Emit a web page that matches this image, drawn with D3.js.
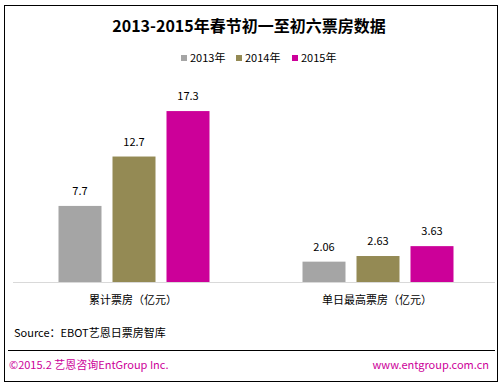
<!DOCTYPE html>
<html>
<head>
<meta charset="utf-8">
<script src="https://cdn.jsdelivr.net/npm/d3@7"></script>
<style>
  body { margin: 0; background: #fff; }
  text { font-family: "Noto Sans CJK SC", "Noto Sans", sans-serif; }
</style>
</head>
<body>
<div id="chart"></div>
<script>
var svgWidth = 502;
var svgHeight = 387;

// data
var categories = ["累计票房（亿元）", "单日最高票房（亿元）"];
var seriesNames = ["2013年", "2014年", "2015年"];
var values2013 = [7.7, 2.06];
var values2014 = [12.7, 2.63];
var values2015 = [17.3, 3.63];
var valueLabels = [["7.7", "2.06"], ["12.7", "2.63"], ["17.3", "3.63"]];
var colors = ["#A5A5A5", "#948A54", "#CC0099"];

var series = [values2013, values2014, values2015];

var baseline = 282;

var svg = d3.select("#chart")
  .append("svg")
  .attr("width", svgWidth)
  .attr("height", svgHeight);

// outer frame
svg.append("rect")
  .attr("x", 4.5)
  .attr("y", 5.5)
  .attr("width", 493)
  .attr("height", 376)
  .attr("fill", "none")
  .attr("stroke", "#000")
  .attr("stroke-width", 1);

// title
svg.append("text")
  .attr("x", 249)
  .attr("y", 32)
  .attr("text-anchor", "middle")
  .style("font-size", "16px")
  .style("font-weight", "bold")
  .attr("fill", "#000")
  .text("2013-2015年春节初一至初六票房数据");

// legend
var legendX = [181, 236, 292];
var legend = svg.selectAll(".legend")
  .data(seriesNames)
  .enter()
  .append("g")
  .attr("transform", (d, i) => `translate(${legendX[i]}, 55)`);

legend.append("rect")
  .attr("width", 6)
  .attr("height", 6)
  .attr("fill", (d, i) => colors[i]);

legend.append("text")
  .attr("x", 9)
  .attr("y", 6.5)
  .style("font-size", "11px")
  .attr("fill", "#000")
  .text(d => d);

// scales
var x0 = d3.scaleBand()
  .domain(categories)
  .range([12, 500]);

var x1 = d3.scaleBand()
  .domain(d3.range(seriesNames.length))
  .range([0, 151])
  .paddingInner(0.2037);

var y = d3.scaleLinear()
  .domain([0, 20])
  .range([baseline, baseline - 197.6]);

// bars
var groups = svg.selectAll(".group")
  .data(categories)
  .enter()
  .append("g")
  .attr("transform", d => `translate(${x0(d) + x0.bandwidth() / 2 - 75.5}, 0)`);

groups.each(function(cat, ci) {
  var g = d3.select(this);
  series.forEach(function(vals, si) {
    g.append("rect")
      .attr("x", x1(si))
      .attr("y", y(vals[ci]))
      .attr("width", x1.bandwidth())
      .attr("height", baseline - y(vals[ci]))
      .attr("fill", colors[si]);

    g.append("text")
      .attr("x", x1(si) + x1.bandwidth() / 2)
      .attr("y", y(vals[ci]) - 11)
      .attr("text-anchor", "middle")
      .style("font-size", "11px")
      .attr("fill", "#000")
      .text(valueLabels[si][ci]);
  });
});

// axis line
svg.append("line")
  .attr("x1", 13)
  .attr("x2", 495)
  .attr("y1", baseline + 0.5)
  .attr("y2", baseline + 0.5)
  .attr("stroke", "#D9D9D9")
  .attr("stroke-width", 1);

// category labels
svg.selectAll(".catLabel")
  .data(categories)
  .enter()
  .append("text")
  .attr("x", d => x0(d) + x0.bandwidth() / 2 - 1)
  .attr("y", 304)
  .attr("text-anchor", "middle")
  .style("font-size", "11px")
  .attr("fill", "#000")
  .text(d => d);

// source
svg.append("text")
  .attr("x", 14)
  .attr("y", 337)
  .style("font-size", "11px")
  .attr("fill", "#000")
  .text("Source：EBOT艺恩日票房智库");

// footer line
svg.append("line")
  .attr("x1", 8)
  .attr("x2", 495)
  .attr("y1", 350.5)
  .attr("y2", 350.5)
  .attr("stroke", "#000")
  .attr("stroke-width", 1);

svg.append("text")
  .attr("x", 9)
  .attr("y", 369)
  .style("font-size", "11px")
  .attr("fill", "#CC0099")
  .text("©2015.2  艺恩咨询EntGroup Inc.");

svg.append("text")
  .attr("x", 489)
  .attr("y", 369)
  .attr("text-anchor", "end")
  .style("font-size", "11px")
  .attr("fill", "#CC0099")
  .text("www.entgroup.com.cn");
</script>
</body>
</html>
